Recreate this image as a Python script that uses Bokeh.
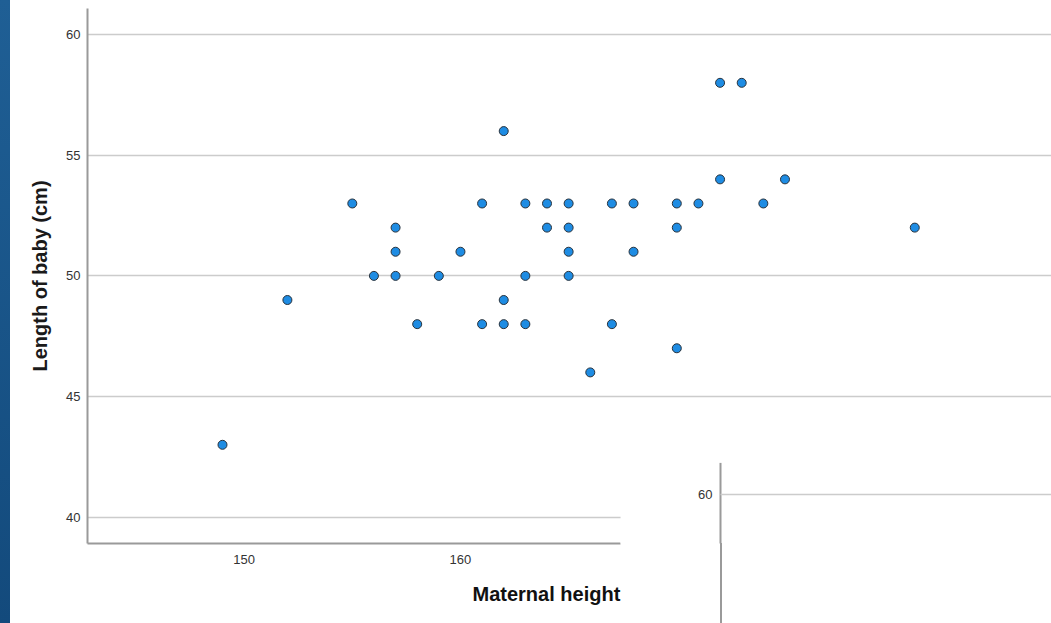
from bokeh.plotting import figure
from bokeh.models import (Range1d, Label, BoxAnnotation, Arrow, Div, FixedTicker,
                          ColumnDataSource, Title)
from bokeh.layouts import row
from bokeh.embed import file_html
from bokeh.resources import INLINE

# ---- data ----
maternal_height = [149, 152, 155, 156, 157, 157, 157, 158, 159, 160,
                   161, 161, 162, 162, 162, 163, 163, 163, 164, 164,
                   165, 165, 165, 165, 166, 167, 167, 168, 168, 170,
                   170, 170, 171, 172, 172, 173, 174, 175, 181]
baby_length = [43, 49, 53, 50, 52, 51, 50, 48, 50, 51,
               53, 48, 56, 49, 48, 53, 50, 48, 53, 52,
               53, 52, 51, 50, 46, 53, 48, 53, 51, 53,
               52, 47, 53, 58, 54, 58, 53, 54, 52]
x_ticks = [150, 160]
y_ticks = [40, 45, 50, 55, 60]
x_title = "Maternal height"
y_title = "Length of baby (cm)"

FONT = "Liberation Sans"

p = figure(width=1041, height=623, output_backend="svg", toolbar_location=None,
           x_range=Range1d(142.76, 187.32), y_range=Range1d(38.91, 61.08),
           min_border_left=77, min_border_right=0, min_border_top=8,
           min_border_bottom=80, outline_line_color=None,
           background_fill_color="white", border_fill_color="white")

src = ColumnDataSource(dict(x=maternal_height, y=baby_length))
p.scatter("x", "y", source=src, size=9, fill_color="#1e8ce3",
          line_color="#28323c", line_width=1)

# axes
p.xaxis.ticker = FixedTicker(ticks=x_ticks)
p.yaxis.ticker = FixedTicker(ticks=y_ticks)
p.xaxis.bounds = (142.76, 167.40)
for ax in (p.xaxis, p.yaxis):
    ax.axis_line_color = "#9a9a9a"
    ax.axis_line_width = 2
    ax.major_tick_line_color = None
    ax.minor_tick_line_color = None
    ax.major_label_text_font = FONT
    ax.major_label_text_font_size = "13px"
    ax.major_label_text_color = "#333333"
p.xaxis.major_label_standoff = 5
p.yaxis.major_label_standoff = 1

p.yaxis.axis_label = y_title
p.yaxis.axis_label_text_font = FONT
p.yaxis.axis_label_text_font_size = "20px"
p.yaxis.axis_label_text_font_style = "bold"
p.yaxis.axis_label_text_color = "#1a1a1a"
p.yaxis.axis_label_standoff = 12

p.xgrid.grid_line_color = None
p.ygrid.grid_line_color = "#cccccc"
p.ygrid.grid_line_width = 1.5

# x-axis title (its right end meets the overlapping panel)
p.add_layout(Title(text=x_title, align="left", offset=385, standoff=28,
                   text_font=FONT, text_font_size="20px",
                   text_font_style="bold", text_color="#111111"), "below")

# overlapping white panel (screenshot artefact) in the lower right
p.add_layout(BoxAnnotation(left=167.40, bottom=35.0, top=42.78,
                           fill_color="white", fill_alpha=1.0,
                           line_color=None, level="annotation"))
p.add_layout(Arrow(x_start=172.02, y_start=42.25, x_end=172.02, y_end=35.0,
                   end=None, start=None, line_color="#9a9a9a", line_width=2))
p.add_layout(Arrow(x_start=172.02, y_start=40.94, x_end=187.32, y_end=40.94,
                   end=None, start=None, line_color="#cccccc", line_width=1.5))
p.add_layout(Label(x=171.65, y=40.94, text="60", text_align="right",
                   text_baseline="middle", text_font=FONT,
                   text_font_size="13px", text_color="#333333"))

strip = Div(width=10, height=623, margin=0,
            text=("<div style='position:absolute;left:720px;top:543px;"
                  "width:2px;height:80px;background:#9a9a9a;z-index:50'></div>"),
            styles={"background": "linear-gradient(#1f5f95, #134a7c)",
                    "width": "10px", "height": "623px",
                    "overflow": "visible", "z-index": "50"})

layout = row(strip, p, spacing=0)
open("out.html", "w").write(file_html(layout, INLINE))
